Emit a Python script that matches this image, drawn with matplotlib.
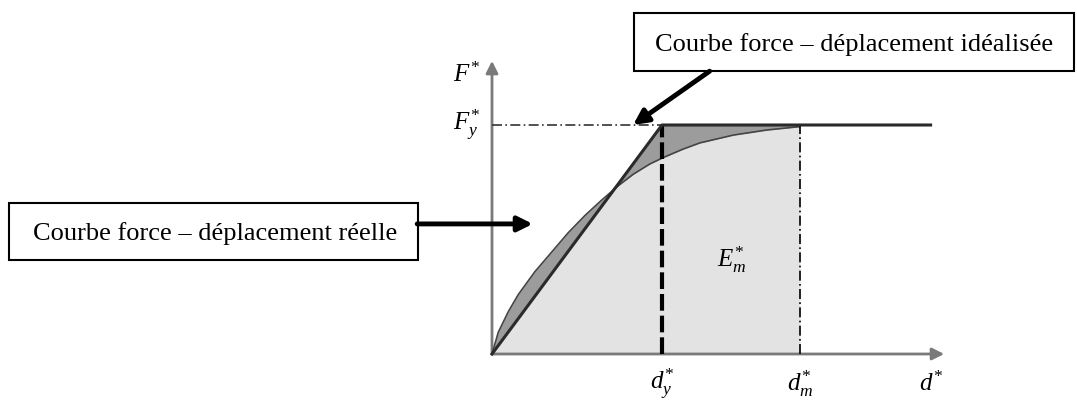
import numpy as np
import matplotlib.pyplot as plt
from matplotlib.patches import Rectangle

plt.rcParams['font.family'] = ['Liberation Serif', 'DejaVu Serif']
plt.rcParams['mathtext.fontset'] = 'custom'
plt.rcParams['mathtext.rm'] = 'Liberation Serif'
plt.rcParams['mathtext.it'] = 'Liberation Serif:italic'

# idealised bilinear curve (d normalised by d_y, F by F_y)
d_y = 1.0
F_y = 1.0
d_m = 1.812
d_end = 2.58

# measured (real) force-displacement curve
d_real = [0.0, 0.037, 0.096, 0.155, 0.253, 0.351, 0.449, 0.547, 0.645, 0.743,
          0.831, 0.929, 1.008, 1.125, 1.224, 1.420, 1.616, 1.812]
F_real = [0.0, 0.095, 0.185, 0.26, 0.36, 0.445, 0.53, 0.605, 0.672, 0.735,
          0.785, 0.83, 0.858, 0.895, 0.922, 0.956, 0.978, 0.993]

fig = plt.figure(figsize=(10.77, 4.04), dpi=100)
ax = fig.add_axes([0, 0, 1, 1])
ax.set_xlim(-492 / 170, 585 / 170)
ax.set_ylim(-50 / 229, 354 / 229)
ax.axis('off')

# fills: energy under the real curve, and the gap between real and idealised curves
xx = np.linspace(0, d_m, 800)
real = np.interp(xx, d_real, F_real)
ideal = np.minimum(xx / d_y, 1.0) * F_y
ax.fill_between(xx, 0, np.minimum(real, ideal), color='#e3e3e3', lw=0, zorder=1)
ax.fill_between(xx, real, ideal, color='#9c9c9c', lw=0, zorder=1)

# axes with arrow heads
ax.annotate('', xy=(2.66, 0), xytext=(0, 0),
            arrowprops=dict(arrowstyle='-|>', color='#7a7a7a', lw=2, mutation_scale=18,
                            shrinkA=0, shrinkB=0), zorder=3)
ax.annotate('', xy=(0, 1.28), xytext=(0, 0),
            arrowprops=dict(arrowstyle='-|>', color='#7a7a7a', lw=2, mutation_scale=18,
                            shrinkA=0, shrinkB=0), zorder=3)

# curves
ax.plot(d_real, F_real, color='#444444', lw=1.2, zorder=4)
ax.plot([0, d_y, d_end], [0, F_y, F_y], color='#2a2a2a', lw=2.2, zorder=5)
ax.plot([0, d_y], [F_y, F_y], color='#333333', lw=1.2, ls=(0, (6, 2, 1, 2)), zorder=4)
ax.plot([d_y, d_y], [0, F_y], color='black', lw=3, ls=(0, (4, 1.2)), zorder=4)
ax.plot([d_m, d_m], [0, F_y], color='black', lw=1.2, ls=(0, (6, 2, 1, 2)), zorder=4)

# symbols
ax.text(-0.07, 1.22, r'$F^{*}$', fontsize=18, ha='right', va='center')
ax.text(-0.07, F_y, r'$F_{y}^{*}$', fontsize=18, ha='right', va='center')
ax.text(d_y, -0.13, r'$d_{y}^{*}$', fontsize=18, ha='center', va='center')
ax.text(d_m, -0.13, r'$d_{m}^{*}$', fontsize=18, ha='center', va='center')
ax.text(2.58, -0.13, r'$d^{*}$', fontsize=18, ha='center', va='center')
ax.text(1.41, 0.41, r'$E_{m}^{*}$', fontsize=18, ha='center', va='center')

# labelled boxes (figure-fraction placement) with pointer arrows
boxes = [
    ('Courbe force \u2013 déplacement idéalisée', (634, 13, 1074, 71), 655),
    ('Courbe force \u2013 déplacement réelle', (9, 203, 418, 260), 33),
]
W, H = 1077, 404
for label, (x0, y0, x1, y1), tx in boxes:
    ax.add_patch(Rectangle((x0 / W, 1 - y1 / H), (x1 - x0) / W, (y1 - y0) / H,
                           transform=ax.transAxes, fc='white', ec='black', lw=1.5, zorder=6))
    ax.text(tx / W, 1 - (y0 + y1) / 2 / H, label, transform=ax.transAxes, fontsize=19,
            ha='left', va='center_baseline', zorder=7)

ax.annotate('', xy=(0.83, 1.0), xytext=(1.28, 1.235),
            arrowprops=dict(arrowstyle='-|>', color='black', lw=3.5, mutation_scale=22,
                            shrinkA=0, shrinkB=0), zorder=6)
ax.annotate('', xy=(0.24, 0.568), xytext=(-0.44, 0.568),
            arrowprops=dict(arrowstyle='-|>', color='black', lw=3.5, mutation_scale=22,
                            shrinkA=0, shrinkB=0), zorder=6)

fig.savefig('out.png', dpi=100)
